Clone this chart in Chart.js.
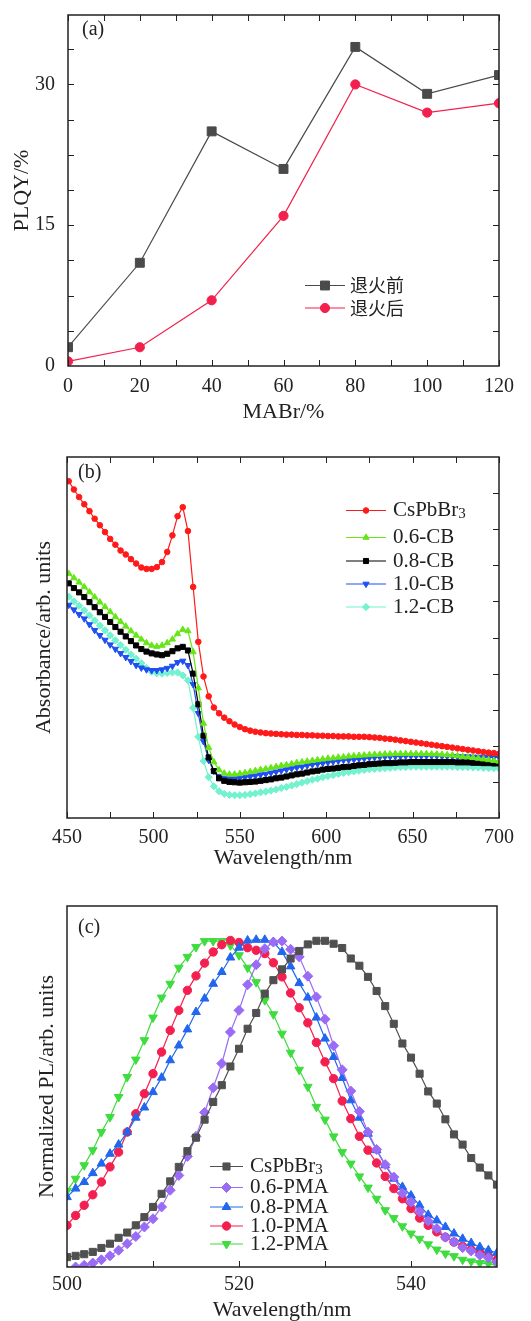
<!DOCTYPE html>
<html>
<head>
<meta charset="utf-8">
<script src="https://cdn.jsdelivr.net/npm/chart.js"></script>
<style>
    html, body { margin: 0; padding: 0; background: #fff; }
    #wrap { position: relative; width: 531px; height: 1321px; }
    canvas { position: absolute; left: 0; }
</style>
</head>
<body>
<div id="wrap">
    <canvas id="chartPLQY" width="531" height="430" style="top:0px"></canvas>
    <canvas id="chartAbs" width="531" height="430" style="top:440px"></canvas>
    <canvas id="chartPL" width="531" height="441" style="top:880px"></canvas>
</div>
<script>
// --- (a) PLQY vs MABr ---
const mabr = [0, 20, 40, 60, 80, 100, 120];
const plqyBefore = [2, 11, 25, 21, 34, 29, 31];
const plqyAfter = [0.5, 2, 7, 16, 30, 27, 28];
const plqyTicksX = [0, 20, 40, 60, 80, 100, 120];
const plqyTicksY = [0, 15, 30];

// --- (b) absorbance ---
const wlAbs = [
    451, 454, 457, 460, 463, 466, 469, 472, 475, 478,
    481, 484, 487, 490, 493, 496, 499, 502, 505, 508,
    511, 514, 517, 520, 523, 526, 529, 532, 535, 538,
    541, 544, 547, 550, 553, 556, 559, 562, 565, 568,
    571, 574, 577, 580, 583, 586, 589, 592, 595, 598,
    601, 604, 607, 610, 613, 616, 619, 622, 625, 628,
    631, 634, 637, 640, 643, 646, 649, 652, 655, 658,
    661, 664, 667, 670, 673, 676, 679, 682, 685, 688,
    691, 694, 697, 700
];
const absCsPbBr3 = [
    9.33, 9.10, 8.89, 8.69, 8.50, 8.29, 8.11, 7.92, 7.73, 7.57,
    7.41, 7.30, 7.17, 7.05, 6.94, 6.90, 6.90, 6.95, 7.09, 7.37,
    7.83, 8.36, 8.61, 7.95, 6.40, 4.88, 3.92, 3.37, 3.06, 2.90,
    2.78, 2.68, 2.59, 2.52, 2.46, 2.42, 2.39, 2.37, 2.35, 2.34,
    2.33, 2.32, 2.31, 2.31, 2.30, 2.30, 2.29, 2.29, 2.28, 2.28,
    2.27, 2.27, 2.26, 2.26, 2.26, 2.25, 2.25, 2.25, 2.24, 2.23,
    2.22, 2.20, 2.19, 2.17, 2.15, 2.13, 2.11, 2.09, 2.07, 2.05,
    2.03, 2.01, 1.99, 1.97, 1.95, 1.93, 1.91, 1.89, 1.87, 1.85,
    1.83, 1.81, 1.80, 1.78
];
const abs06CB = [
    6.77, 6.65, 6.53, 6.40, 6.26, 6.12, 5.98, 5.85, 5.71, 5.57,
    5.44, 5.31, 5.18, 5.06, 4.95, 4.85, 4.78, 4.75, 4.78, 4.85,
    4.95, 5.10, 5.22, 5.18, 4.60, 3.60, 2.62, 1.95, 1.55, 1.33,
    1.24, 1.21, 1.21, 1.23, 1.25, 1.28, 1.31, 1.34, 1.36, 1.39,
    1.42, 1.45, 1.47, 1.50, 1.53, 1.55, 1.57, 1.59, 1.61, 1.63,
    1.65, 1.66, 1.68, 1.69, 1.71, 1.72, 1.73, 1.74, 1.75, 1.76,
    1.76, 1.77, 1.77, 1.78, 1.78, 1.78, 1.78, 1.78, 1.78, 1.78,
    1.77, 1.77, 1.76, 1.75, 1.74, 1.72, 1.70, 1.69, 1.67, 1.65,
    1.63, 1.61, 1.59, 1.57
];
const abs08CB = [
    6.50, 6.37, 6.25, 6.12, 5.98, 5.84, 5.70, 5.57, 5.43, 5.29,
    5.16, 5.03, 4.90, 4.78, 4.68, 4.61, 4.56, 4.53, 4.51, 4.55,
    4.62, 4.70, 4.74, 4.64, 4.00, 3.15, 2.28, 1.68, 1.30, 1.10,
    1.03, 1.00, 0.99, 0.98, 0.99, 1.00, 1.01, 1.03, 1.05, 1.07,
    1.10, 1.12, 1.15, 1.18, 1.21, 1.23, 1.26, 1.29, 1.31, 1.34,
    1.36, 1.37, 1.39, 1.41, 1.42, 1.44, 1.46, 1.47, 1.49, 1.50,
    1.51, 1.52, 1.52, 1.53, 1.54, 1.54, 1.55, 1.55, 1.55, 1.55,
    1.55, 1.55, 1.55, 1.55, 1.55, 1.54, 1.54, 1.54, 1.53, 1.53,
    1.52, 1.52, 1.51, 1.51
];
const abs10CB = [
    5.90, 5.77, 5.64, 5.52, 5.36, 5.20, 5.06, 4.93, 4.80, 4.68,
    4.56, 4.45, 4.34, 4.23, 4.16, 4.11, 4.09, 4.09, 4.11, 4.15,
    4.21, 4.31, 4.35, 4.23, 3.70, 2.90, 2.12, 1.60, 1.30, 1.16,
    1.11, 1.09, 1.09, 1.11, 1.13, 1.15, 1.17, 1.20, 1.22, 1.25,
    1.28, 1.31, 1.34, 1.37, 1.40, 1.42, 1.45, 1.48, 1.50, 1.52,
    1.54, 1.56, 1.58, 1.60, 1.61, 1.62, 1.64, 1.65, 1.67, 1.68,
    1.69, 1.70, 1.70, 1.71, 1.71, 1.72, 1.72, 1.72, 1.72, 1.72,
    1.72, 1.72, 1.71, 1.71, 1.71, 1.70, 1.70, 1.70, 1.69, 1.69,
    1.69, 1.68, 1.68, 1.68
];
const abs12CB = [
    6.13, 6.00, 5.88, 5.75, 5.61, 5.47, 5.33, 5.20, 5.06, 4.92,
    4.79, 4.66, 4.53, 4.41, 4.29, 4.15, 4.05, 4.01, 4.00, 4.02,
    4.03, 4.03, 3.95, 3.81, 3.05, 2.25, 1.58, 1.13, 0.88, 0.74,
    0.67, 0.64, 0.63, 0.63, 0.64, 0.66, 0.68, 0.71, 0.73, 0.76,
    0.79, 0.83, 0.86, 0.90, 0.94, 0.98, 1.02, 1.06, 1.09, 1.13,
    1.16, 1.19, 1.22, 1.25, 1.27, 1.29, 1.31, 1.33, 1.35, 1.36,
    1.37, 1.38, 1.39, 1.40, 1.41, 1.41, 1.42, 1.42, 1.42, 1.42,
    1.42, 1.42, 1.42, 1.42, 1.42, 1.41, 1.41, 1.41, 1.40, 1.40,
    1.39, 1.38, 1.38, 1.37
];
const absTicksX = [450, 500, 550, 600, 650, 700];

// --- (c) normalized PL ---
const wlPL = [
    500, 501, 502, 503, 504, 505, 506, 507, 508, 509,
    510, 511, 512, 513, 514, 515, 516, 517, 518, 519,
    520, 521, 522, 523, 524, 525, 526, 527, 528, 529,
    530, 531, 532, 533, 534, 535, 536, 537, 538, 539,
    540, 541, 542, 543, 544, 545, 546, 547, 548, 549,
    550
];
const plCsPbBr3 = [
    0.030, 0.034, 0.039, 0.046, 0.058, 0.071, 0.089, 0.105, 0.127, 0.152,
    0.183, 0.223, 0.261, 0.305, 0.353, 0.394, 0.449, 0.503, 0.554, 0.611,
    0.665, 0.726, 0.774, 0.833, 0.874, 0.907, 0.940, 0.963, 0.983, 0.994,
    0.994, 0.985, 0.972, 0.940, 0.918, 0.884, 0.841, 0.795, 0.741, 0.681,
    0.638, 0.589, 0.535, 0.498, 0.450, 0.404, 0.373, 0.332, 0.303, 0.279,
    0.251
];
const pl06PMA = [
    -0.010, 0.000, 0.005, 0.012, 0.022, 0.034, 0.051, 0.071, 0.093, 0.122,
    0.147, 0.183, 0.234, 0.279, 0.337, 0.398, 0.471, 0.546, 0.620, 0.716,
    0.782, 0.860, 0.921, 0.970, 0.990, 0.993, 0.968, 0.945, 0.886, 0.823,
    0.755, 0.674, 0.601, 0.536, 0.474, 0.411, 0.358, 0.312, 0.274, 0.225,
    0.198, 0.168, 0.140, 0.117, 0.091, 0.076, 0.059, 0.049, 0.036, 0.028,
    0.015
];
const pl08PMA = [
    0.213, 0.239, 0.259, 0.286, 0.315, 0.345, 0.373, 0.411, 0.455, 0.486,
    0.533, 0.577, 0.630, 0.675, 0.724, 0.777, 0.818, 0.863, 0.899, 0.943,
    0.973, 0.995, 0.997, 0.997, 0.990, 0.960, 0.916, 0.865, 0.821, 0.760,
    0.696, 0.640, 0.576, 0.508, 0.455, 0.406, 0.356, 0.310, 0.269, 0.244,
    0.218, 0.188, 0.159, 0.142, 0.122, 0.102, 0.086, 0.073, 0.061, 0.051,
    0.043
];
const pl10PMA = [
    0.127, 0.157, 0.188, 0.220, 0.259, 0.305, 0.350, 0.411, 0.467, 0.528,
    0.589, 0.655, 0.721, 0.782, 0.843, 0.887, 0.926, 0.960, 0.982, 0.995,
    0.989, 0.973, 0.965, 0.955, 0.927, 0.884, 0.835, 0.790, 0.744, 0.684,
    0.625, 0.574, 0.506, 0.452, 0.398, 0.356, 0.317, 0.276, 0.239, 0.208,
    0.178, 0.149, 0.127, 0.107, 0.091, 0.076, 0.063, 0.053, 0.046, 0.033,
    0.022
];
const pl12PMA = [
    0.232, 0.269, 0.310, 0.356, 0.411, 0.457, 0.518, 0.579, 0.632, 0.691,
    0.760, 0.821, 0.863, 0.912, 0.945, 0.975, 0.993, 0.993, 0.993, 0.980,
    0.950, 0.912, 0.868, 0.813, 0.770, 0.711, 0.653, 0.601, 0.549, 0.488,
    0.449, 0.398, 0.350, 0.315, 0.276, 0.242, 0.208, 0.173, 0.149, 0.124,
    0.102, 0.086, 0.069, 0.053, 0.041, 0.033, 0.022, 0.017, 0.012, 0.010,
    0.005
];
const plTicksX = [500, 520, 540];

const SERIF = '"Liberation Serif", "DejaVu Serif", serif';
const CJK = '"Noto Sans CJK SC", sans-serif';
const INK = '#222';

Chart.defaults.font.family = SERIF;
Chart.defaults.color = INK;

// marco + ticks hacia adentro
const frameTicks = {
    id: 'frameTicks',
    afterDatasetsDraw(chart, args, o) {
        const ctx = chart.ctx;
        const a = chart.chartArea;
        const sx = chart.scales.x;
        const sy = chart.scales.y;
        ctx.save();
        ctx.strokeStyle = INK;
        ctx.lineWidth = 1;
        ctx.beginPath();
        (o.xTicks || []).forEach(v => {
            const px = Math.round(sx.getPixelForValue(v)) + 0.5;
            if (o.xSides.includes('bottom')) { ctx.moveTo(px, a.bottom); ctx.lineTo(px, a.bottom - o.len); }
            if (o.xSides.includes('top')) { ctx.moveTo(px, a.top); ctx.lineTo(px, a.top + o.len); }
        });
        (o.yTicks || []).forEach(v => {
            const py = Math.round(sy.getPixelForValue(v)) + 0.5;
            if (o.ySides.includes('left')) { ctx.moveTo(a.left, py); ctx.lineTo(a.left + o.len, py); }
            if (o.ySides.includes('right')) { ctx.moveTo(a.right, py); ctx.lineTo(a.right - o.len, py); }
        });
        ctx.stroke();
        ctx.lineWidth = 1.5;
        ctx.strokeRect(a.left, a.top, a.right - a.left, a.bottom - a.top);
        ctx.restore();
    }
};

// leyenda dentro del grafico + etiqueta (a)/(b)/(c)
const insideLegend = {
    id: 'insideLegend',
    afterDraw(chart, args, o) {
        const ctx = chart.ctx;
        ctx.save();
        ctx.textBaseline = 'middle';
        ctx.fillStyle = INK;
        ctx.font = '20px ' + SERIF;
        ctx.fillText(o.tag, o.tagX, o.tagY);

        chart.data.datasets.forEach((ds, i) => {
            const y = o.rows[i];
            ctx.strokeStyle = ds.borderColor;
            ctx.lineWidth = ds.borderWidth;
            ctx.beginPath();
            ctx.moveTo(o.x1, y);
            ctx.lineTo(o.x2, y);
            ctx.stroke();

            ctx.fillStyle = ds.pointBackgroundColor;
            ctx.strokeStyle = ds.pointBorderColor;
            ctx.lineWidth = ds.pointBorderWidth;
            Chart.helpers.drawPoint(ctx, {
                pointStyle: ds.pointStyle,
                radius: ds.pointRadius,
                rotation: ds.pointRotation,
                borderWidth: ds.pointBorderWidth
            }, (o.x1 + o.x2) / 2, y);

            ctx.fillStyle = INK;
            ctx.font = o.font;
            const m = ds.label.match(/^(.*Br)(\d)$/);
            if (m) {
                ctx.fillText(m[1], o.tx, y);
                const w = ctx.measureText(m[1]).width;
                ctx.font = o.subFont;
                ctx.fillText(m[2], o.tx + w, y + 4);
            } else {
                ctx.fillText(ds.label, o.tx, y);
            }
        });
        ctx.restore();
    }
};

function serie(label, xs, ys, color, style, radius, rot, lw) {
    return {
        label: label,
        data: xs.map((x, i) => ({ x: x, y: ys[i] })),
        borderColor: color,
        backgroundColor: color,
        pointBackgroundColor: color,
        pointBorderColor: color,
        pointStyle: style,
        pointRadius: radius,
        pointRotation: rot || 0,
        pointBorderWidth: 1,
        borderWidth: lw || 1.2,
        tension: 0
    };
}

function makeChart(canvasId, datasets, cfg) {
    return new Chart(document.getElementById(canvasId), {
        type: 'line',
        data: { datasets: datasets },
        plugins: [frameTicks, insideLegend],
        options: {
            responsive: false,
            animation: false,
            events: [],
            layout: { padding: { top: cfg.top, right: cfg.right, left: 0, bottom: 0 } },
            plugins: {
                legend: { display: false },
                tooltip: { enabled: false },
                frameTicks: cfg.frame,
                insideLegend: cfg.legend
            },
            scales: {
                x: {
                    type: 'linear',
                    min: cfg.xMin,
                    max: cfg.xMax,
                    grid: { display: false },
                    border: { display: false },
                    afterBuildTicks: s => { s.ticks = cfg.xTicks.map(v => ({ value: v })); },
                    afterFit: s => { s.height = cfg.xHeight; },
                    ticks: {
                        autoSkip: false,
                        maxRotation: 0,
                        padding: cfg.xTickPad,
                        color: INK,
                        font: { size: 20, lineHeight: 1 }
                    },
                    title: {
                        display: true,
                        text: cfg.xTitle,
                        color: INK,
                        font: { size: 22, lineHeight: 1 },
                        padding: { top: 0, bottom: cfg.xTitlePad }
                    }
                },
                y: {
                    type: 'linear',
                    min: cfg.yMin,
                    max: cfg.yMax,
                    grid: { display: false },
                    border: { display: false },
                    afterBuildTicks: s => { s.ticks = (cfg.yTicks || []).map(v => ({ value: v })); },
                    afterFit: s => { s.width = cfg.yWidth; },
                    ticks: {
                        display: !!cfg.yTicks,
                        padding: 5,
                        color: INK,
                        font: { size: 20, lineHeight: 1 }
                    },
                    title: {
                        display: true,
                        text: cfg.yTitle,
                        color: INK,
                        font: { size: 22, lineHeight: 1 },
                        padding: { top: cfg.yTitlePad, bottom: 0 }
                    }
                }
            }
        }
    });
}

// (a)
makeChart('chartPLQY', [
    serie('退火前', mabr, plqyBefore, '#4a4a4a', 'rect', 6.3),
    serie('退火后', mabr, plqyAfter, '#f2204c', 'circle', 4.6)
], {
    top: 5, right: 32, xHeight: 64, yWidth: 68,
    xMin: 0, xMax: 120, yMin: 0, yMax: 37.4,
    xTicks: plqyTicksX, yTicks: plqyTicksY,
    xTickPad: 3, xTitle: 'MABr/%', xTitlePad: 7,
    yTitle: 'PLQY/%', yTitlePad: 11,
    frame: {
        len: 6,
        xTicks: [0, 10, 20, 30, 40, 50, 60, 70, 80, 90, 100, 110, 120], xSides: ['top', 'bottom'],
        yTicks: [3.75, 7.5, 11.25, 15, 18.75, 22.5, 26.25, 30, 33.75], ySides: ['left', 'right']
    },
    legend: {
        tag: '(a)', tagX: 82, tagY: 30,
        x1: 305, x2: 345, tx: 350, rows: [285.5, 308],
        font: '18px ' + CJK, subFont: '13px ' + CJK
    }
});

// (b)
makeChart('chartAbs', [
    serie('CsPbBr3', wlAbs, absCsPbBr3, '#ff1a1a', 'circle', 2.8),
    serie('0.6-CB', wlAbs, abs06CB, '#66e619', 'triangle', 3.6),
    serie('0.8-CB', wlAbs, abs08CB, '#000000', 'rect', 3.6),
    serie('1.0-CB', wlAbs, abs10CB, '#1f4ff0', 'triangle', 3.6, 180),
    serie('1.2-CB', wlAbs, abs12CB, '#72f2cf', 'rectRot', 3.6)
], {
    top: 17, right: 32, xHeight: 52, yWidth: 67,
    xMin: 450, xMax: 700, yMin: 0, yMax: 10,
    xTicks: absTicksX, yTicks: null,
    xTickPad: 2, xTitle: 'Wavelength/nm', xTitlePad: 1,
    yTitle: 'Absorbance/arb. units', yTitlePad: 33,
    frame: {
        len: 6,
        xTicks: [450, 475, 500, 525, 550, 575, 600, 625, 650, 675, 700], xSides: ['top', 'bottom'],
        yTicks: [1, 2, 3, 4, 5, 6, 7, 8, 9], ySides: ['right']
    },
    legend: {
        tag: '(b)', tagX: 78, tagY: 33,
        x1: 346, x2: 386, tx: 393, rows: [70.5, 97.5, 121, 144, 167],
        font: '21px ' + SERIF, subFont: '15px ' + SERIF
    }
});

// (c)
makeChart('chartPL', [
    serie('CsPbBr3', wlPL, plCsPbBr3, '#505050', 'rect', 5),
    serie('0.6-PMA', wlPL, pl06PMA, '#9a6cf5', 'rectRot', 5),
    serie('0.8-PMA', wlPL, pl08PMA, '#2266ee', 'triangle', 5),
    serie('1.0-PMA', wlPL, pl10PMA, '#f31f4f', 'circle', 4.2),
    serie('1.2-PMA', wlPL, pl12PMA, '#3fdc3f', 'triangle', 5, 180)
], {
    top: 26, right: 34, xHeight: 54, yWidth: 67,
    xMin: 500, xMax: 550, yMin: 0, yMax: 1.1,
    xTicks: plTicksX, yTicks: null,
    xTickPad: 0, xTitle: 'Wavelength/nm', xTitlePad: 0,
    yTitle: 'Normalized PL/arb. units', yTitlePad: 36,
    frame: {
        len: 6,
        xTicks: [510, 520, 530, 540], xSides: ['bottom'],
        yTicks: [], ySides: []
    },
    legend: {
        tag: '(c)', tagX: 78, tagY: 48,
        x1: 210, x2: 243, tx: 250, rows: [286.5, 307.5, 327, 346, 364],
        font: '21px ' + SERIF, subFont: '15px ' + SERIF
    }
});
</script>
</body>
</html>
